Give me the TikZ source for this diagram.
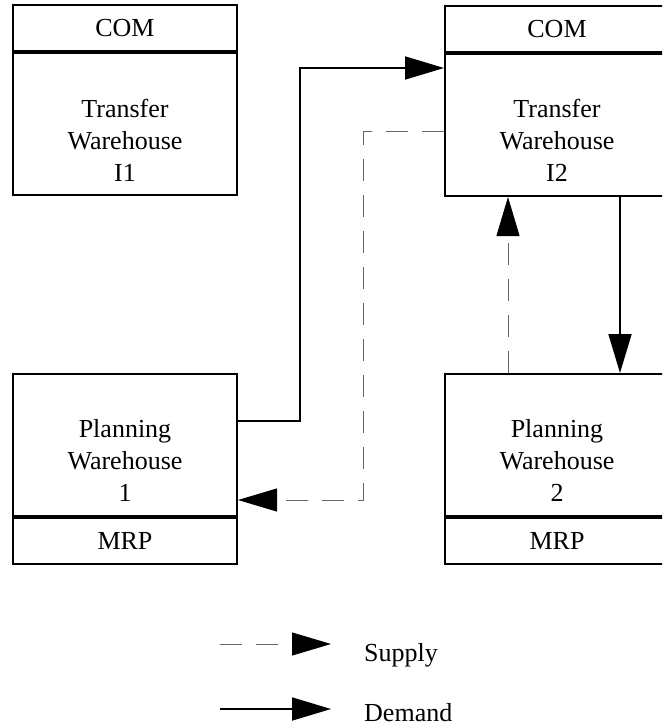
\documentclass[tikz,border=0pt]{standalone}
\usepackage{fontspec}
\setmainfont{Liberation Serif}
\usetikzlibrary{positioning,arrows.meta}

\tikzset{
  whbox/.style={draw, line width=2pt, minimum width=224pt, inner sep=0pt,
    font=\fontsize{26}{32}\selectfont},
  body/.style={whbox, minimum height=142pt},
  head/.style={whbox, minimum height=46pt},
  whtext/.style={align=center, inner sep=0pt, font=\fontsize{26}{32}\selectfont},
  demand/.style={draw, line width=1.8pt, -{Triangle[length=39pt,width=23pt]}},
  supply/.style={draw=black!60, line width=1pt, dash pattern=on 22pt off 14pt,
    -{Triangle[length=39pt,width=23pt,color=black]}},
}

\begin{document}
\begin{tikzpicture}[x=1pt,y=-1pt]
    \clip (0,0) rectangle (662,727);
    % transfer warehouses
    \node[body] (i1) at (125,124.5) {};
    \node[head, above=0pt of i1] (i1com) {COM};
    \node[whtext, yshift=-15.5pt] (i1txt) at (i1) {Transfer\\Warehouse\\I1};
    \node[body] (i2) at (557,125) {};
    \node[head, above=0pt of i2] (i2com) {COM};
    \node[whtext, yshift=-15.5pt] (i2txt) at (i2) {Transfer\\Warehouse\\I2};
    % planning warehouses
    \node[body] (p1) at (125,445) {};
    \node[head, below=0pt of p1] (p1mrp) {MRP};
    \node[whtext, yshift=-15pt] (p1txt) at (p1) {Planning\\Warehouse\\1};
    \node[body] (p2) at (557,445) {};
    \node[head, below=0pt of p2] (p2mrp) {MRP};
    \node[whtext, yshift=-15pt] (p2txt) at (p2) {Planning\\Warehouse\\2};
    % flows
    \draw[demand] ([yshift=24pt]p1.east) -- ++(62,0) |- ([yshift=57pt]i2.west);
    \draw[supply] ([yshift=-7pt]i2.west) -- ++(-81,0) |- ([yshift=-55pt]p1.east);
    \draw[supply] ([xshift=-49pt]p2.north) -- ([xshift=-49pt]i2.south);
    \draw[demand] ([xshift=63pt]i2.south) -- ([xshift=63pt]p2.north);
    % legend
    \coordinate (supl) at (220,644);
    \coordinate (deml) at (220,709);
    \draw[supply] (supl) -- ++(111,0);
    \node[whtext, anchor=base west] (suptxt) at (364,661) {Supply};
    \draw[demand] (deml) -- ++(111,0);
    \node[whtext, anchor=base west] (demtxt) at (364,721) {Demand};
\end{tikzpicture}
\end{document}
